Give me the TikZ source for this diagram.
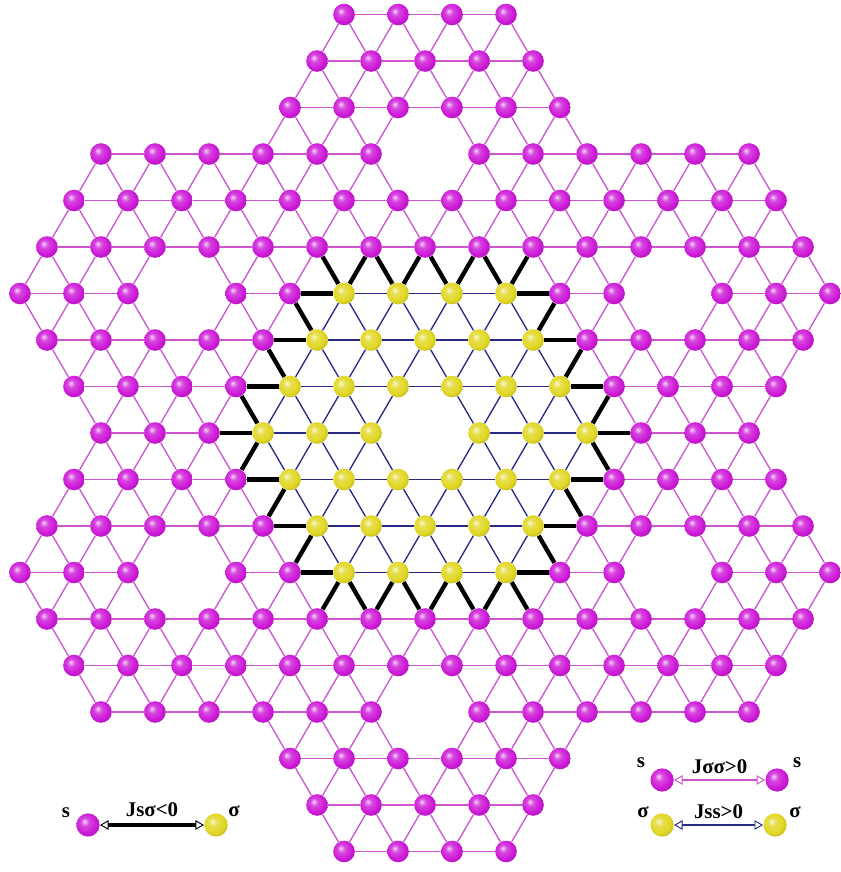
\documentclass[tikz,border=0pt]{standalone}
\usepackage{fontspec}
\setmainfont{Liberation Serif}
\usetikzlibrary{arrows.meta}

\definecolor{spin}{RGB}{205,25,215}
\definecolor{sig}{RGB}{225,215,35}
\definecolor{ssline}{RGB}{205,85,205}
\definecolor{sigline}{RGB}{40,40,135}

% lighter sphere than the built-in ball shading
\makeatletter
\pgfdeclareradialshading[tikz@ball]{atom}{\pgfqpoint{-8bp}{8bp}}{%
    color(0bp)=(tikz@ball!20!white); color(9bp)=(tikz@ball!80!white);
    color(22bp)=(tikz@ball); color(36bp)=(tikz@ball!75!black);
    color(50bp)=(tikz@ball!55!black)}
\makeatother

\pgfdeclarelayer{bonds}
\pgfsetlayers{bonds,main}

\begin{document}
\begin{tikzpicture}[x=1cm, y=0.861cm,
        declare function={hexd(\a,\b)=(abs(\a)+abs(\b)+abs(\a+\b))/2;},
        sball/.style={circle, inner sep=0pt, minimum size=0.40cm, ball color=spin, shading=atom},
        gball/.style={circle, inner sep=0pt, minimum size=0.40cm, ball color=sig, shading=atom},
        bond2/.style={ssline, line width=0.7pt},
        bond3/.style={black, line width=2.3pt},
        bond4/.style={sigline, line width=0.7pt},
        lab/.style={text=black, font=\bfseries\fontsize{11}{12}\selectfont, inner sep=0pt},
        jarrow/.style={{Triangle[fill=white, length=4.5pt, width=5pt, line width=0.5pt]}-{Triangle[fill=white, length=4.5pt, width=5pt, line width=0.5pt]}}]

        % Site types: 0 empty, 1 s, 2 sigma
        \foreach \r in {-10,...,10}{
            \foreach \q in {-13,...,13}{
                \pgfmathtruncatemacro\dc{hexd(\q,\r)}
                \pgfmathtruncatemacro\dn{min(hexd(\q+3,\r-6),hexd(\q+6,\r-3),hexd(\q-3,\r-3),hexd(\q+3,\r+3),hexd(\q-6,\r+3),hexd(\q-3,\r+6))}
                \pgfmathtruncatemacro\ty{(\dc>0)*(\dn>0)*((\dc<=3)*2+(\dc>3)*(\dn<=3))}
                \expandafter\xdef\csname st\q x\r\endcsname{\ty}
            }
        }

        % Atoms
        \foreach \r in {-9,...,9}{
            \foreach \q in {-12,...,12}{
                \edef\ty{\csname st\q x\r\endcsname}
                \ifcase\ty\or
                    \node[sball] (a\q x\r) at ({\q+0.5*(\r)},\r) {};
                \or
                    \node[gball] (a\q x\r) at ({\q+0.5*(\r)},\r) {};
                \fi
            }
        }

        % Bonds
        \begin{pgfonlayer}{bonds}
            \path[use as bounding box, fill=white] (-7.870,-9.441) rectangle (7.593,9.312);
            \foreach \r in {-9,...,9}{
                \foreach \q in {-12,...,12}{
                    \pgfmathtruncatemacro\qp{\q+1}
                    \pgfmathtruncatemacro\qm{\q-1}
                    \pgfmathtruncatemacro\rp{\r+1}
                    \edef\ta{\csname st\q x\r\endcsname}
                    \foreach \nq/\nr in {\qp/\r,\q/\rp,\qm/\rp}{
                        \edef\tb{\csname st\nq x\nr\endcsname}
                        \ifnum\ta>0 \ifnum\tb>0
                            \pgfmathtruncatemacro\bt{\ta+\tb}
                            \draw[bond\bt] (a\q x\r) -- (a\nq x\nr);
                        \fi\fi
                    }
                }
            }
        \end{pgfonlayer}

        % Legend
        \node[sball, minimum size=0.43cm] (ls) at (-6.241,-8.430) {};
        \node[gball, minimum size=0.43cm] (lg) at (-3.870,-8.430) {};
        \draw[bond3, jarrow] (ls) -- node[lab, above=3pt] {Jsσ<0} (lg);
        \node[lab] (lsl) at (-6.648,-8.172) {s};
        \node[lab] (lgl) at (-3.537,-8.129) {σ};

        \node[sball, minimum size=0.43cm] (rs1) at (4.389,-7.462) {};
        \node[sball, minimum size=0.43cm] (rs2) at (6.519,-7.462) {};
        \draw[bond2, line width=1pt, jarrow] (rs1) -- node[lab, above=3pt] {Jσσ>0} (rs2);
        \node[lab] (rsl1) at (4.00,-7.10) {s};
        \node[lab] (rsl2) at (6.89,-7.10) {s};

        \node[gball, minimum size=0.43cm] (rg1) at (4.389,-8.430) {};
        \node[gball, minimum size=0.43cm] (rg2) at (6.481,-8.430) {};
        \draw[bond4, line width=1pt, jarrow] (rg1) -- node[lab, above=3pt] {Jss>0} (rg2);
        \node[lab] (rgl1) at (4.037,-8.151) {σ};
        \node[lab] (rgl2) at (6.852,-8.151) {σ};

    \end{tikzpicture}
\end{document}
